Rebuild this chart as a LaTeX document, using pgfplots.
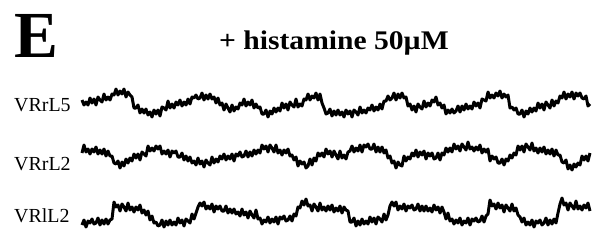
\documentclass[border=0pt]{standalone}
\usepackage{pgfplots}
\pgfplotsset{compat=1.18}
\usepackage{fontspec}
\setmainfont{Liberation Serif}
\begin{document}
\begin{tikzpicture}
\begin{axis}[name=ax, x=1bp, y=1bp, xmin=0, xmax=593, ymin=0, ymax=246, y dir=reverse,
  hide axis, clip=false, anchor=south west, at={(0,0)}]
% VRrL5
\addplot[black, line width=3bp, line join=round] coordinates {
(82,100)(84,105)(86,102)(88,105)(90,98)(92,103)(94,99)(96,105)(98,97)(100,100)(102,102)(104,94)(106,100)(108,97)(110,100)(112,94)(114,95)(116,89)(118,95)(120,91)(122,94)(124,89)(126,97)(128,92)(130,95)(132,97)(134,108)(136,108)(138,105)(140,113)(142,109)(144,113)
(146,109)(148,115)(150,112)(152,117)(154,110)(156,114)(158,110)(160,116)(162,107)(164,108)(166,110)(168,101)(170,108)(172,104)(174,108)(176,102)(178,105)(180,100)(182,106)(184,102)(186,105)(188,99)(190,104)(192,97)(194,98)(196,95)(198,99)(200,98)(202,93)(204,100)(206,95)(208,99)
(210,94)(212,99)(214,97)(216,103)(218,98)(220,105)(222,103)(224,110)(226,104)(228,108)(230,112)(232,105)(234,111)(236,107)(238,109)(240,103)(242,105)(244,99)(246,106)(248,102)(250,105)(252,100)(254,108)(256,104)(258,108)(260,107)(262,114)(264,114)(266,110)(268,117)(270,111)(272,114)
(274,108)(276,112)(278,108)(280,111)(282,103)(284,108)(286,104)(288,110)(290,102)(292,105)(294,107)(296,99)(298,107)(300,104)(302,106)(304,99)(306,100)(308,94)(310,100)(312,96)(314,98)(316,93)(318,100)(320,94)(322,103)(324,108)(326,114)(328,113)(330,109)(332,116)(334,111)(336,115)
(338,110)(340,115)(342,112)(344,117)(346,110)(348,114)(350,111)(352,117)(354,110)(356,112)(358,115)(360,107)(362,113)(364,110)(366,113)(368,108)(370,110)(372,105)(374,111)(376,107)(378,110)(380,104)(382,109)(384,101)(386,101)(388,96)(390,100)(392,98)(394,93)(396,100)(398,94)(400,98)
(402,93)(404,98)(406,97)(408,106)(410,104)(412,110)(414,106)(416,112)(418,104)(420,107)(422,109)(424,101)(426,107)(428,103)(430,106)(432,100)(434,102)(436,97)(438,105)(440,103)(442,108)(444,105)(446,114)(448,110)(450,113)(452,109)(454,113)(456,111)(458,106)(460,112)(462,106)(464,110)
(466,104)(468,109)(470,106)(472,109)(474,102)(476,106)(478,103)(480,108)(482,99)(484,100)(486,101)(488,92)(490,98)(492,95)(494,98)(496,93)(498,96)(500,91)(502,98)(504,94)(506,97)(508,95)(510,108)(512,107)(514,110)(516,108)(518,114)(520,114)(522,110)(524,117)(526,111)(528,114)
(530,108)(532,112)(534,108)(536,111)(538,103)(540,108)(542,104)(544,110)(546,102)(548,105)(550,108)(552,100)(554,106)(556,101)(558,103)(560,96)(562,98)(564,92)(566,99)(568,94)(570,97)(572,92)(574,99)(576,93)(578,96)(580,93)(582,98)(584,99)(586,96)(588,106)(590,104)
};
% VRrL2
\addplot[black, line width=3bp, line join=round] coordinates {
(82,153)(84,145)(86,152)(88,149)(90,154)(92,149)(94,152)(96,147)(98,154)(100,150)(102,154)(104,149)(106,156)(108,151)(110,156)(112,156)(114,163)(116,164)(118,161)(120,168)(122,162)(124,166)(126,159)(128,163)(130,158)(132,161)(134,154)(136,158)(138,154)(140,160)(142,152)(144,154)
(146,156)(148,146)(150,151)(152,148)(154,151)(156,146)(158,149)(160,146)(162,154)(164,151)(166,154)(168,150)(170,157)(172,151)(174,153)(176,151)(178,157)(180,157)(182,153)(184,160)(186,156)(188,161)(190,157)(192,163)(194,161)(196,165)(198,158)(200,164)(202,161)(204,167)(206,160)(208,163)
(210,165)(212,157)(214,163)(216,159)(218,162)(220,156)(222,159)(224,154)(226,160)(228,156)(230,159)(232,154)(234,161)(236,154)(238,156)(240,152)(242,157)(244,156)(246,151)(248,157)(250,152)(252,156)(254,150)(256,154)(258,150)(260,153)(262,145)(264,149)(266,146)(268,152)(270,145)(272,148)
(274,152)(276,145)(278,153)(280,150)(282,155)(284,150)(286,153)(288,149)(290,156)(292,155)(294,160)(296,157)(298,166)(300,161)(302,164)(304,162)(306,168)(308,166)(310,159)(312,165)(314,158)(316,161)(318,153)(320,156)(322,153)(324,157)(326,149)(328,154)(330,151)(332,157)(334,151)(336,155)
(338,159)(340,151)(342,158)(344,155)(346,159)(348,152)(350,151)(352,146)(354,152)(356,148)(358,151)(360,145)(362,152)(364,145)(366,147)(368,144)(370,149)(372,149)(374,144)(376,152)(378,147)(380,152)(382,147)(384,153)(386,150)(388,158)(390,156)(392,163)(394,161)(396,168)(398,162)(400,165)
(402,166)(404,156)(406,161)(408,157)(410,159)(412,153)(414,156)(416,150)(418,157)(420,152)(422,155)(424,151)(426,159)(428,153)(430,156)(432,153)(434,159)(436,158)(438,153)(440,160)(442,153)(444,155)(446,148)(448,152)(450,148)(452,152)(454,144)(456,149)(458,146)(460,151)(462,144)(464,147)
(466,150)(468,142)(470,149)(472,147)(474,151)(476,147)(478,150)(480,145)(482,153)(484,149)(486,152)(488,149)(490,161)(492,156)(494,159)(496,157)(498,163)(500,163)(502,159)(504,165)(506,159)(508,161)(510,155)(512,158)(514,153)(516,155)(518,146)(520,150)(522,146)(524,152)(526,144)(528,147)
(530,150)(532,143)(534,151)(536,148)(538,153)(540,148)(542,152)(544,147)(546,154)(548,150)(550,154)(552,149)(554,156)(556,150)(558,155)(560,155)(562,162)(564,163)(566,160)(568,169)(570,165)(572,170)(574,164)(576,167)(578,163)(580,165)(582,156)(584,160)(586,156)(588,161)(590,153)
};
% VRlL2
\addplot[black, line width=3bp, line join=round] coordinates {
(82,225)(84,220)(86,227)(88,221)(90,223)(92,219)(94,224)(96,223)(98,218)(100,225)(102,220)(104,224)(106,219)(108,224)(110,220)(112,219)(114,202)(116,207)(118,205)(120,211)(122,204)(124,207)(126,211)(128,203)(130,210)(132,207)(134,212)(136,207)(138,210)(140,205)(142,213)(144,210)
(146,215)(148,211)(150,220)(152,216)(154,223)(156,222)(158,226)(160,225)(162,220)(164,227)(166,221)(168,225)(170,220)(172,225)(174,222)(176,225)(178,218)(180,223)(182,220)(184,226)(186,219)(188,221)(190,223)(192,214)(194,219)(196,213)(198,207)(200,203)(202,206)(204,202)(206,209)(208,206)
(210,209)(212,204)(214,212)(216,206)(218,209)(220,206)(222,211)(224,211)(226,206)(228,213)(230,209)(232,213)(234,209)(236,214)(238,212)(240,216)(242,209)(244,215)(246,212)(248,218)(250,211)(252,215)(254,218)(256,210)(258,219)(260,218)(262,224)(264,220)(266,222)(268,217)(270,223)(272,219)
(274,222)(276,217)(278,224)(280,217)(282,219)(284,216)(286,221)(288,220)(290,216)(292,221)(294,214)(296,216)(298,207)(300,208)(302,201)(304,205)(306,199)(308,206)(310,205)(312,211)(314,204)(316,207)(318,211)(320,203)(322,210)(324,207)(326,211)(328,206)(330,210)(332,205)(334,212)(336,208)
(338,211)(340,206)(342,213)(344,207)(346,210)(348,211)(350,222)(352,222)(354,218)(356,226)(358,221)(360,225)(362,219)(364,224)(366,221)(368,224)(370,217)(372,222)(374,218)(376,224)(378,217)(380,219)(382,222)(384,214)(386,220)(388,215)(390,206)(392,202)(394,206)(396,202)(398,210)(400,206)
(402,209)(404,204)(406,211)(408,206)(410,208)(412,205)(414,210)(416,209)(418,204)(420,211)(422,206)(424,211)(426,206)(428,211)(430,208)(432,212)(434,205)(436,210)(438,207)(440,213)(442,207)(444,212)(446,219)(448,213)(450,221)(452,219)(454,224)(456,220)(458,223)(460,218)(462,225)(464,221)
(466,223)(468,218)(470,225)(472,219)(474,221)(476,218)(478,222)(480,221)(482,216)(484,222)(486,216)(488,214)(490,200)(492,206)(494,204)(496,209)(498,203)(500,208)(502,205)(504,212)(506,205)(508,208)(510,211)(512,204)(514,211)(516,208)(518,215)(520,217)(522,222)(524,218)(526,225)(528,222)
(530,225)(532,220)(534,227)(536,221)(538,223)(540,220)(542,225)(544,223)(546,218)(548,225)(550,220)(552,224)(554,219)(556,223)(558,213)(560,204)(562,198)(564,205)(566,203)(568,210)(570,203)(572,206)(574,209)(576,201)(578,209)(580,206)(582,210)(584,205)(586,208)(588,203)(590,211)
};
\node[anchor=base west, inner sep=0pt, font=\fontsize{66}{66}\selectfont\bfseries] at (axis cs:14,57) {E};
\node[anchor=base west, inner sep=0pt, xscale=1.1, font=\fontsize{27}{27}\selectfont\bfseries] at (axis cs:219,49) {+ histamine 50µM};
\node[anchor=base west, inner sep=0pt, font=\fontsize{20}{20}\selectfont] at (axis cs:14,111) {VRrL5};
\node[anchor=base west, inner sep=0pt, font=\fontsize{20}{20}\selectfont] at (axis cs:14,170) {VRrL2};
\node[anchor=base west, inner sep=0pt, font=\fontsize{20}{20}\selectfont] at (axis cs:14,222) {VRlL2};
\end{axis}
\pgfresetboundingbox
\path[use as bounding box] (ax.south west) rectangle (ax.north east);
\end{tikzpicture}
\end{document}
